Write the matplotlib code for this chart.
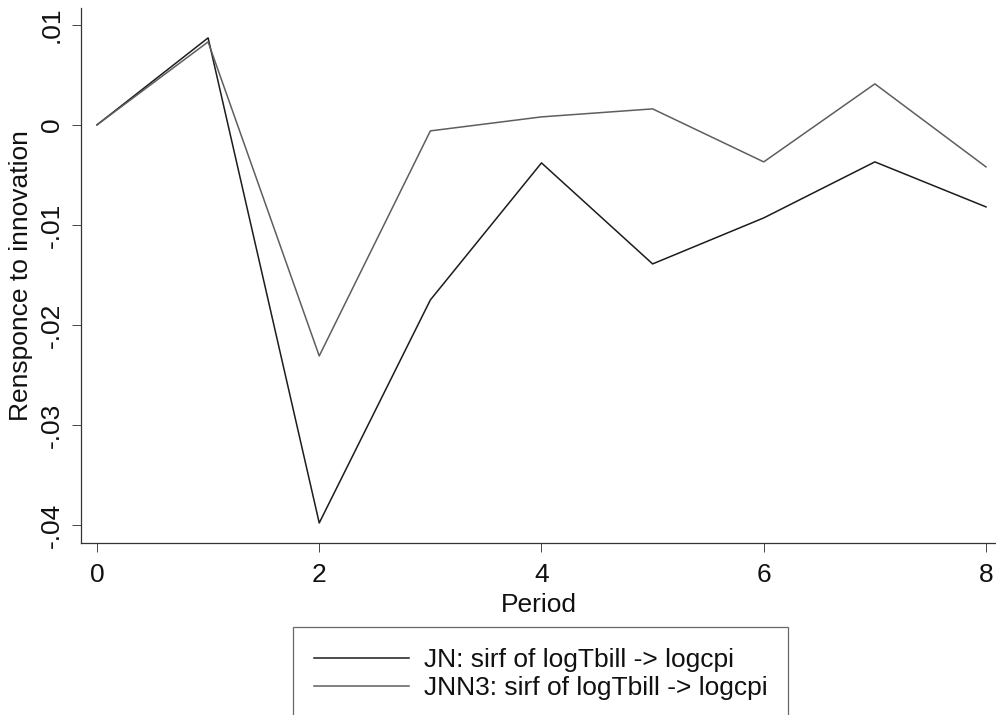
import matplotlib
matplotlib.use("Agg")
import matplotlib.pyplot as plt
from matplotlib.ticker import FuncFormatter

plt.rcParams['font.family'] = ['Liberation Sans', 'DejaVu Sans']

# impulse responses by period
periods = [0, 1, 2, 3, 4, 5, 6, 7, 8]
jn = [0.0, 0.0087, -0.0398, -0.0175, -0.0038, -0.0139, -0.0093, -0.0037, -0.0082]
jnn3 = [0.0, 0.0083, -0.0231, -0.0006, 0.0008, 0.0016, -0.0037, 0.0041, -0.0042]
labels = ["JN: sirf of logTbill -> logcpi", "JNN3: sirf of logTbill -> logcpi"]
yticks = [0.01, 0.0, -0.01, -0.02, -0.03, -0.04]
xticks = [0, 2, 4, 6, 8]

FS = 19


def stata_fmt(v, pos):
    s = f"{v:.2f}".rstrip('0').rstrip('.')
    if s in ("0", "-0", ""):
        return "0"
    return s.replace("0.", ".")


fig = plt.figure(figsize=(9.96, 7.15), dpi=100)
ax = fig.add_axes([0.0813, 0.2406, 0.9187, 0.7484])

ax.plot(periods, jn, color='#1c1c1c', lw=1.1, label=labels[0])
ax.plot(periods, jnn3, color='#5e5e5e', lw=1.1, label=labels[1])

ax.set_xlim(-0.144, 8.09)
ax.set_ylim(-0.0418, 0.0117)
ax.set_xticks(xticks)
ax.set_yticks(yticks)
ax.yaxis.set_major_formatter(FuncFormatter(stata_fmt))

for side in ('top', 'right'):
    ax.spines[side].set_visible(False)
for side in ('left', 'bottom'):
    ax.spines[side].set_color('#333333')
    ax.spines[side].set_linewidth(0.9)

ax.tick_params(axis='both', direction='out', color='#444444', width=0.7,
               labelsize=FS, labelcolor='#111111')
ax.tick_params(axis='y', length=6.5, pad=6)
ax.tick_params(axis='x', length=6.5, pad=8)
for lbl in ax.get_yticklabels():
    lbl.set_rotation(90)
    lbl.set_va('center')

ax.set_xlabel("Period", fontsize=FS, color='#111111', labelpad=4)
ax.set_ylabel("Rensponce to innovation", fontsize=FS, color='#111111', labelpad=5)

leg = fig.legend(loc='upper left', bbox_to_anchor=(293 / 996, 1 - 627 / 715),
                 fontsize=FS, frameon=True, fancybox=False, borderpad=0.8,
                 handlelength=3.6, handletextpad=0.55, labelspacing=0.15,
                 borderaxespad=0)
leg.get_frame().set_edgecolor('#444444')
leg.get_frame().set_linewidth(0.9)
for t in leg.get_texts():
    t.set_color('#111111')

fig.savefig("out.png", dpi=100)
